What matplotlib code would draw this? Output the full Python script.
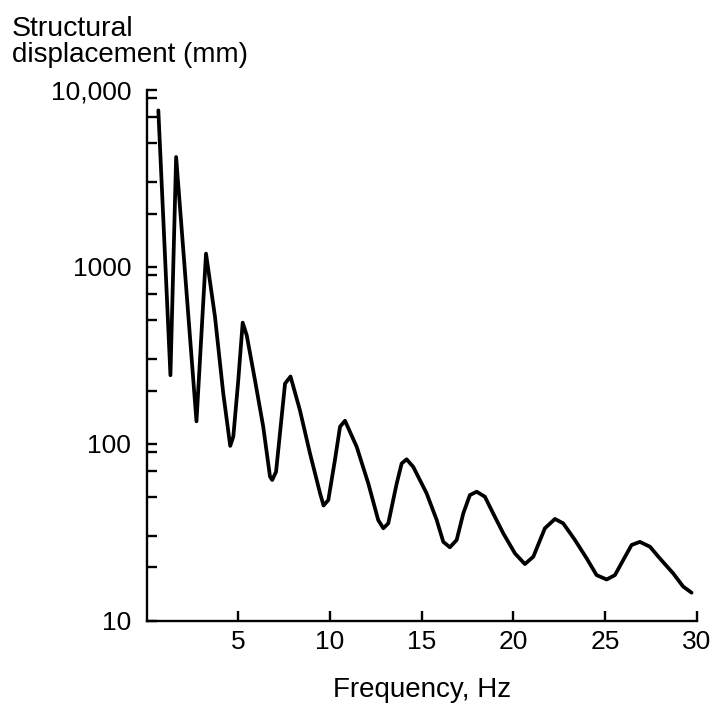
import matplotlib
matplotlib.use("Agg")
import matplotlib.pyplot as plt
from matplotlib.ticker import FixedLocator, NullFormatter

plt.rcParams['font.family'] = ['Liberation Sans', 'DejaVu Sans']

# Data (frequency in Hz, displacement in mm)
freq = [0.64, 1.30, 1.61, 2.72, 3.24, 3.73, 4.18, 4.56, 4.73, 5.00, 5.24, 5.46,
        5.91, 6.36, 6.73, 6.85, 7.06, 7.55, 7.85, 8.36, 8.91, 9.46, 9.65, 9.91,
        10.27, 10.55, 10.82, 11.46, 12.09, 12.63, 12.91, 13.18, 13.64, 13.91,
        14.18, 14.54, 15.27, 15.82, 16.18, 16.54, 16.91, 17.27, 17.63, 18.00,
        18.45, 18.90, 19.45, 20.09, 20.63, 21.09, 21.72, 22.27, 22.72, 23.36,
        24.00, 24.54, 25.09, 25.54, 25.99, 26.45, 26.90, 27.45, 27.99, 28.72,
        29.26, 29.72]
displacement = [7670, 244, 4180, 134, 1189, 522, 193, 97.3, 110, 229, 484, 411,
                229, 125, 65.2, 62.4, 69.5, 219, 240, 155, 88.3, 52.5, 44.8, 48.1,
                80.9, 125, 135, 96, 59.7, 37.1, 33.3, 35.5, 59.7, 77.4,
                81.7, 74.1, 52.5, 37.1, 27.9, 26.0, 28.6, 40.4, 51.3, 53.6,
                50.2, 40.4, 31.2, 24.0, 20.9, 23.0, 33.3, 37.6, 35.5, 28.6,
                22.5, 18.1, 17.1, 18.1, 22.0, 26.8, 27.9, 26.2, 22.5, 18.5,
                15.6, 14.4]

x_ticks = [5, 10, 15, 20, 25, 30]
x_tick_labels = ["5", "10", "15", "20", "25", "30"]
y_major = [10, 100, 1000, 10000]
y_major_labels = ["10", "100", "1000", "10,000"]
y_minor = [20, 30, 50, 70, 90, 200, 300, 500, 700, 900,
           2000, 3000, 5000, 7000, 9000]

fig = plt.figure(figsize=(7.21, 7.12), dpi=100)
ax = fig.add_axes([146.6 / 721, 1 - 620.7 / 712, (696.7 - 146.6) / 721, (620.7 - 90) / 712])

ax.plot(freq, displacement, color='black', lw=2.7, solid_joinstyle='round',
        solid_capstyle='round')

ax.set_yscale('log')
ax.set_xlim(0, 30)
ax.set_ylim(10, 10000)

ax.yaxis.set_major_locator(FixedLocator(y_major))
ax.set_yticklabels(y_major_labels)
ax.yaxis.set_minor_locator(FixedLocator(y_minor))
ax.yaxis.set_minor_formatter(NullFormatter())
ax.set_xticks(x_ticks)
ax.set_xticklabels(x_tick_labels)

for s in ['top', 'right']:
    ax.spines[s].set_visible(False)
for s in ['left', 'bottom']:
    ax.spines[s].set_linewidth(1.7)

ax.tick_params(axis='both', which='both', direction='in', length=7.5, width=1.7,
               labelsize=19, colors='black')
ax.tick_params(axis='y', which='both', pad=11)
ax.tick_params(axis='x', which='both', pad=7)

ax.set_xlabel("Frequency, Hz", fontsize=20, labelpad=16)

fig.text(12 / 721, 1 - 36 / 712, "Structural", fontsize=20.5, ha='left', va='baseline')
fig.text(12 / 721, 1 - 62 / 712, "displacement (mm)", fontsize=20, ha='left', va='baseline')

fig.savefig("out.png", dpi=100)
